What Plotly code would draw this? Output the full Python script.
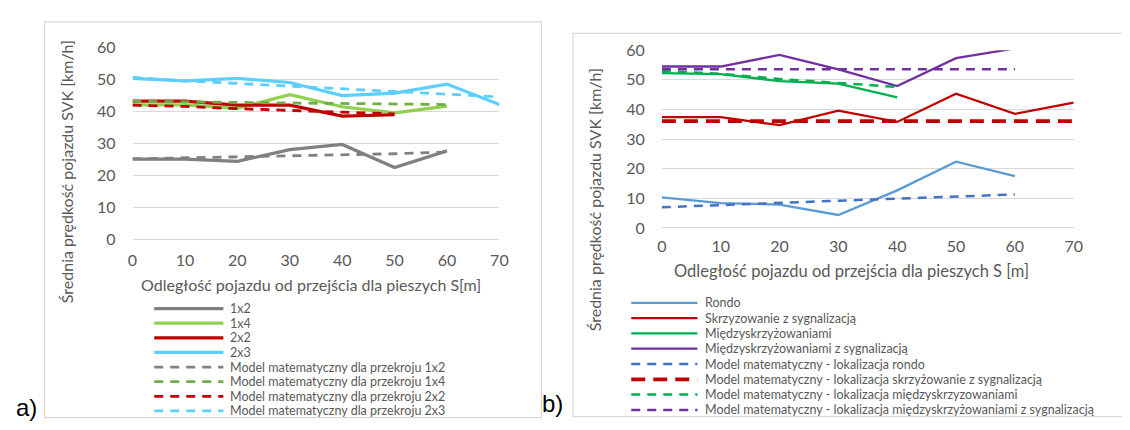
import plotly.graph_objects as go

W, H = 1130, 430
OFF = 8  # default page body margin offset compensation

# ---------------- data ----------------
X = [0, 10, 20, 30, 40, 50, 60, 70]
x_ticks = [0, 10, 20, 30, 40, 50, 60, 70]
y_ticks = [0, 10, 20, 30, 40, 50, 60]

# panel a)
a_names = ["1x2", "1x4", "2x2", "2x3",
           "Model matematyczny dla przekroju 1x2",
           "Model matematyczny dla przekroju 1x4",
           "Model matematyczny dla przekroju 2x2",
           "Model matematyczny dla przekroju 2x3"]
a_1x2 = [25.0, 25.0, 24.3, 28.0, 29.6, 22.4, 27.6]
a_1x4 = [42.0, 42.0, 40.9, 45.2, 41.4, 39.5, 41.6]
a_2x2 = [43.2, 43.2, 41.9, 41.9, 38.5, 38.9]
a_2x3 = [50.3, 49.5, 50.3, 49.0, 44.9, 45.7, 48.5, 42.1]
a_m1x2 = [25.1, 25.4, 25.7, 26.0, 26.3, 26.7, 27.2]
a_m1x4 = [43.1, 42.9, 42.7, 42.6, 42.4, 42.3, 42.1]
a_m2x2 = [41.9, 41.5, 40.8, 40.2, 39.6, 39.2]
a_m2x3 = [50.6, 49.5, 48.7, 47.9, 47.0, 46.3, 45.4, 44.5]

# panel b)
b_names = ["Rondo", "Skrzyzowanie z sygnalizacją", "Międzyskrzyżowaniami",
           "Międzyskrzyżowaniami z sygnalizacją",
           "Model matematyczny - lokalizacja rondo",
           "Model matematyczny - lokalizacja skrzyżowanie z sygnalizacją",
           "Model matematyczny - lokalizacja międzyskrzyzowaniami",
           "Model matematyczny - lokalizacja międzyskrzyżowaniami z sygnalizacją"]
b_rondo = [10.3, 8.4, 7.9, 4.4, 12.7, 22.4, 17.5]
b_skrz = [37.4, 37.4, 34.7, 39.6, 35.8, 45.3, 38.5, 42.3]
b_miedzy = [52.3, 51.9, 49.6, 48.7, 44.1]
b_miedzy_syg = [54.5, 54.5, 58.4, 53.5, 47.9, 57.3, 60.6]
b_m_rondo = [7.0, 7.8, 8.4, 9.2, 9.9, 10.6, 11.3]
b_m_skrz = [36.1, 36.1, 36.1, 36.1, 36.1, 36.1, 36.1, 36.1]
b_m_miedzy = [53.0, 52.0, 50.3, 49.0, 47.6]
b_m_miedzy_syg = [53.6, 53.6, 53.6, 53.6, 53.6, 53.6, 53.6]

# ---------------- styles ----------------
FONT = "Lato"
GREY = "#595959"
GRID = "#d9d9d9"

a_styles = [
    dict(color="#808080", width=3.2, dash="solid"),
    dict(color="#92d050", width=3.2, dash="solid"),
    dict(color="#c00000", width=3.2, dash="solid"),
    dict(color="#5dcfff", width=3.2, dash="solid"),
    dict(color="#808080", width=2.8, dash="9px,7px"),
    dict(color="#70ad47", width=2.8, dash="9px,7px"),
    dict(color="#c00000", width=2.8, dash="9px,7px"),
    dict(color="#5dcfff", width=2.8, dash="9px,7px"),
]
b_styles = [
    dict(color="#5b9bd5", width=2.3, dash="solid"),
    dict(color="#c00000", width=2.3, dash="solid"),
    dict(color="#00b050", width=2.3, dash="solid"),
    dict(color="#7030a0", width=2.3, dash="solid"),
    dict(color="#4472c4", width=2.5, dash="9px,7px"),
    dict(color="#c00000", width=3.8, dash="14px,8px"),
    dict(color="#00b050", width=2.5, dash="9px,7px"),
    dict(color="#7030a0", width=2.5, dash="9px,7px"),
]
a_data = [a_1x2, a_1x4, a_2x2, a_2x3, a_m1x2, a_m1x4, a_m2x2, a_m2x3]
b_data = [b_rondo, b_skrz, b_miedzy, b_miedzy_syg, b_m_rondo, b_m_skrz, b_m_miedzy, b_m_miedzy_syg]


def px(x):
    return (x - OFF) / W


def py(y):
    return 1 - (y - OFF) / H


fig = go.Figure()
for name, vals, st in zip(a_names, a_data, a_styles):
    fig.add_trace(go.Scatter(x=X[:len(vals)], y=vals, name=name, mode="lines",
                             line=st, xaxis="x", yaxis="y", showlegend=False,
                             hoverinfo="skip"))
for name, vals, st in zip(b_names, b_data, b_styles):
    fig.add_trace(go.Scatter(x=X[:len(vals)], y=vals, name=name, mode="lines",
                             line=st, xaxis="x2", yaxis="y2", showlegend=False,
                             hoverinfo="skip"))

axis_common = dict(range=[0, 70], tickvals=x_ticks, showgrid=False, zeroline=False,
                   showline=False, ticks="", tickfont=dict(family=FONT, size=16, color=GREY),
                   fixedrange=True)
yaxis_common = dict(range=[0, 60], tickvals=y_ticks, showgrid=True, gridcolor=GRID,
                    gridwidth=1.3, zeroline=True, zerolinecolor=GRID, zerolinewidth=1.3,
                    showline=False, ticks="",
                    tickfont=dict(family=FONT, size=16, color=GREY),
                    ticklabelstandoff=16, fixedrange=True)

shapes = []
annotations = []

# panel borders
shapes.append(dict(type="rect", xref="paper", yref="paper", x0=px(40), x1=px(543),
                   y0=py(426), y1=py(12), line=dict(color=GRID, width=1.2)))
shapes.append(dict(type="rect", xref="paper", yref="paper", x0=px(575), x1=px(1145),
                   y0=py(425), y1=py(24), line=dict(color=GRID, width=1.2)))


# legends (drawn from the series definitions)
def legend(names, styles, x0, x1, xt, y0, dy, size):
    for i, (n, st) in enumerate(zip(names, styles)):
        y = y0 + i * dy
        shapes.append(dict(type="line", xref="paper", yref="paper", x0=px(x0), x1=px(x1),
                           y0=py(y), y1=py(y), line=dict(color=st["color"], width=st["width"],
                                                         dash=st["dash"])))
        annotations.append(dict(x=px(xt), y=py(y), xref="paper", yref="paper", text=n,
                                showarrow=False, xanchor="left", yanchor="middle",
                                font=dict(family=FONT, size=size, color=GREY)))


legend(a_names, a_styles, 151, 221, 226, 312, 15.3, 12.5)
legend(b_names, b_styles, 634, 701, 707, 306, 16.0, 12.5)

# axis titles
ytitle = "Średnia prędkość pojazdu SVK [km/h]"
annotations.append(dict(x=px(63), y=py(169), xref="paper", yref="paper", text=ytitle,
                        textangle=-90, showarrow=False, xanchor="center", yanchor="middle",
                        font=dict(family=FONT, size=16, color=GREY)))
annotations.append(dict(x=px(597), y=py(198), xref="paper", yref="paper", text=ytitle,
                        textangle=-90, showarrow=False, xanchor="center", yanchor="middle",
                        font=dict(family=FONT, size=16, color=GREY)))
annotations.append(dict(x=px(310), y=py(287), xref="paper", yref="paper",
                        text="Odległość pojazdu od przejścia dla pieszych S[m]",
                        showarrow=False, xanchor="center", yanchor="middle",
                        font=dict(family=FONT, size=16, color=GREY)))
annotations.append(dict(x=px(857), y=py(273), xref="paper", yref="paper",
                        text="Odległość pojazdu od przejścia dla pieszych S [m]",
                        showarrow=False, xanchor="center", yanchor="middle",
                        font=dict(family=FONT, size=16.5, color=GREY)))

# panel labels
annotations.append(dict(x=px(9), y=py(416), xref="paper", yref="paper", text="a)",
                        showarrow=False, xanchor="left", yanchor="middle",
                        font=dict(family="Liberation Sans", size=24, color="#000000")))
annotations.append(dict(x=px(542), y=py(411), xref="paper", yref="paper", text="b)",
                        showarrow=False, xanchor="left", yanchor="middle",
                        font=dict(family="Liberation Sans", size=24, color="#000000")))

fig.update_layout(
    width=W, height=H, margin=dict(l=0, r=0, t=0, b=0),
    paper_bgcolor="white", plot_bgcolor="white",
    xaxis=dict(domain=[px(129), px(500.5)], anchor="y", ticklabelstandoff=10, **axis_common),
    yaxis=dict(domain=[py(239.3), py(38.7)], anchor="x", **yaxis_common),
    xaxis2=dict(domain=[px(665), px(1082)], anchor="y2", ticklabelstandoff=7, **axis_common),
    yaxis2=dict(domain=[py(227.7), py(41.7)], anchor="x2", **yaxis_common),
    shapes=shapes, annotations=annotations, showlegend=False,
)

fig.write_html("out.html")
